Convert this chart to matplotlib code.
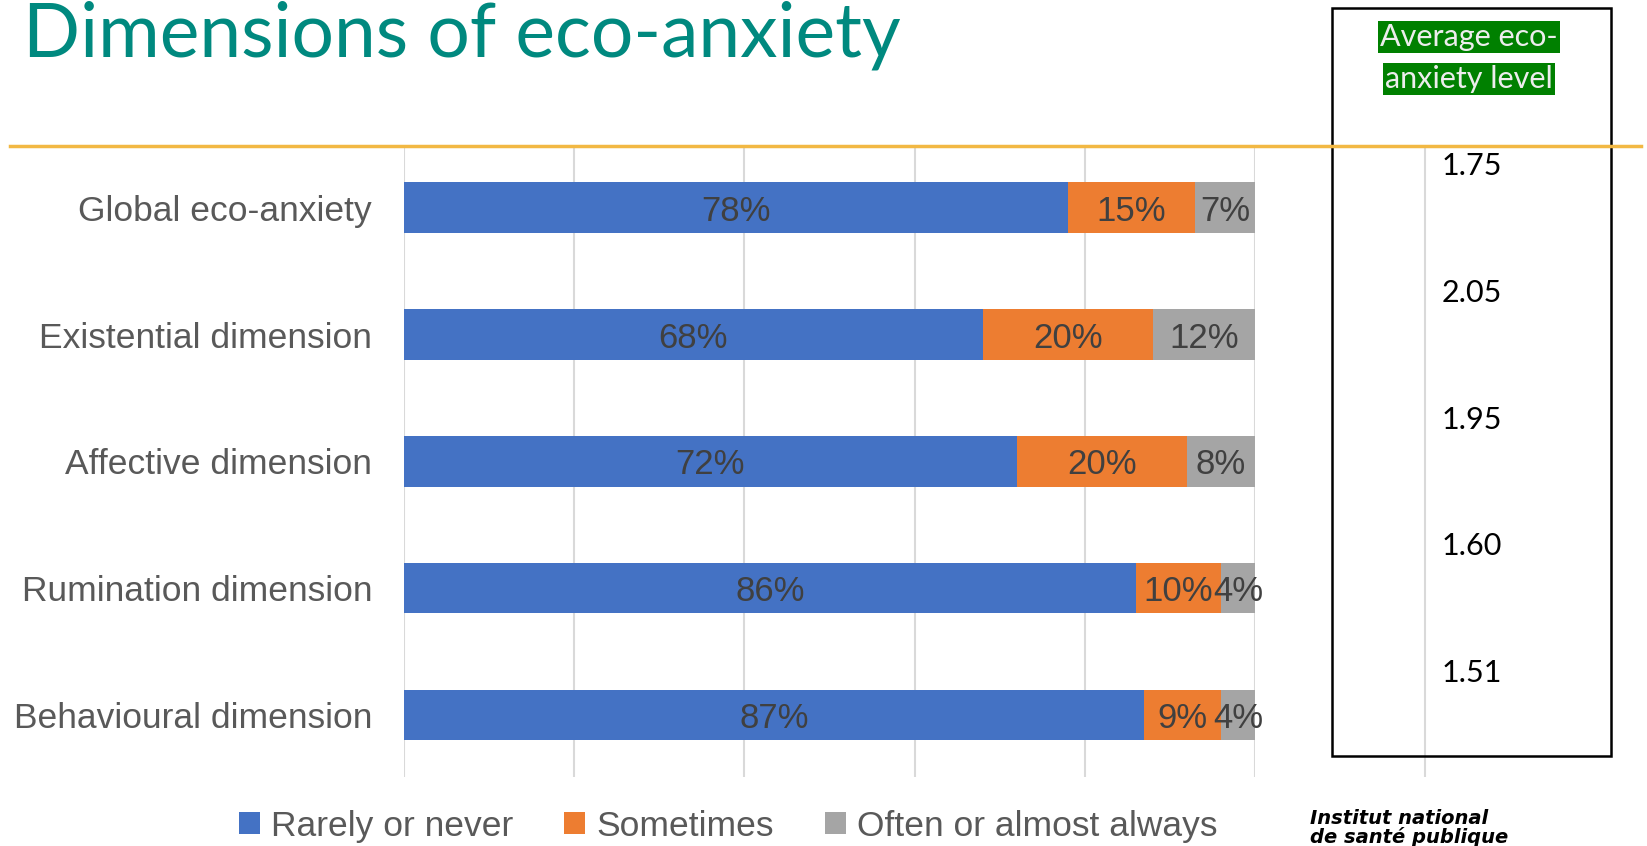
import numpy as np
import matplotlib.pyplot as plt
from matplotlib.patches import Rectangle
from matplotlib.lines import Line2D

# Data
categories = ["Global eco-anxiety", "Existential dimension", "Affective dimension",
              "Rumination dimension", "Behavioural dimension"]
rarely = [78, 68, 72, 86, 87]
sometimes = [15, 20, 20, 10, 9]
often = [7, 12, 8, 4, 4]
averages = [1.75, 2.05, 1.95, 1.60, 1.51]
series_names = ["Rarely or never", "Sometimes", "Often or almost always"]
colors = ["#4472C4", "#ED7D31", "#A5A5A5"]

W, H = 1647, 846
fig = plt.figure(figsize=(W / 100, H / 100), dpi=100)

# main stacked bar chart
ax = fig.add_axes([404 / W, 1 - 777 / H, 851 / W, 630 / H])
y = np.arange(len(categories))
left = np.zeros(len(categories))
for vals, col, name in zip([rarely, sometimes, often], colors, series_names):
    vals = np.array(vals)
    ax.barh(y, vals, left=left, height=0.4, color=col, label=name, zorder=2)
    for yi, l, v in zip(y, left, vals):
        ax.text(l + v / 2, yi, f"{v}%", ha="center", va="center_baseline",
                fontsize=25, color="#404040", family="Liberation Sans", zorder=3)
    left += vals

ax.set_xlim(0, 100)
ax.set_ylim(4.49, -0.48)
ax.set_xticks(np.arange(0, 101, 20))
ax.set_xticklabels([])
ax.grid(axis="x", color="#D9D9D9", linewidth=1.5, zorder=0)
ax.set_yticks(y)
ax.set_yticklabels(categories, fontsize=25.5, color="#595959", family="Liberation Sans")
ax.tick_params(length=0, pad=23)
for s in ax.spines.values():
    s.set_visible(False)

# side panel with average levels
ax2 = fig.add_axes([1332 / W, 1 - 777 / H, 279 / W, 630 / H])
ax2.set_xlim(0, 1)
ax2.set_ylim(4.49, -0.48)
ax2.axvline(93 / 279, color="#D9D9D9", linewidth=1.5, zorder=0)
for yi, v in zip(y, averages):
    ax2.text(0.5, yi - 0.33, f"{v:.2f}", ha="center", va="center",
             fontsize=22, color="black", family="Lato")
ax2.axis("off")

fig.patches.append(Rectangle((1332 / W, 1 - 756 / H), 279 / W, 748 / H,
                             transform=fig.transFigure, fill=False,
                             edgecolor="black", linewidth=1.8))
fig.text(1469 / W, 1 - 37 / H, "Average eco-", ha="center", va="center",
         fontsize=22, color="#EDEDED", family="Lato",
         bbox=dict(facecolor="#008000", edgecolor="none", pad=1.5))
fig.text(1469 / W, 1 - 79 / H, "anxiety level", ha="center", va="center",
         fontsize=22, color="#EDEDED", family="Lato",
         bbox=dict(facecolor="#008000", edgecolor="none", pad=1.5))

# title and accent line
fig.text(23 / W, 1 - 57 / H, "Dimensions of eco-anxiety", ha="left", va="baseline",
         fontsize=54, color="#00897F", family="Lato")
fig.add_artist(Line2D([10 / W, 1641 / W], [1 - 146 / H, 1 - 146 / H],
                      color="#F2B843", linewidth=2.5))

# legend
handles, labels = ax.get_legend_handles_labels()
leg = fig.legend(handles, labels, loc="center", bbox_to_anchor=(728 / W, 1 - 826 / H),
                 ncol=3, frameon=False, handlelength=0.6, handleheight=0.6,
                 handletextpad=0.3, columnspacing=1.45,
                 prop={"family": "Liberation Sans", "size": 25.5})
for t in leg.get_texts():
    t.set_color("#595959")

fig.text(1310 / W, 1 - 828 / H, "Institut national\nde santé publique", ha="left", va="center",
         fontsize=14, fontweight="bold", fontstyle="italic", color="black",
         family="DejaVu Sans", linespacing=0.95)

fig.savefig("out.png", dpi=100)
